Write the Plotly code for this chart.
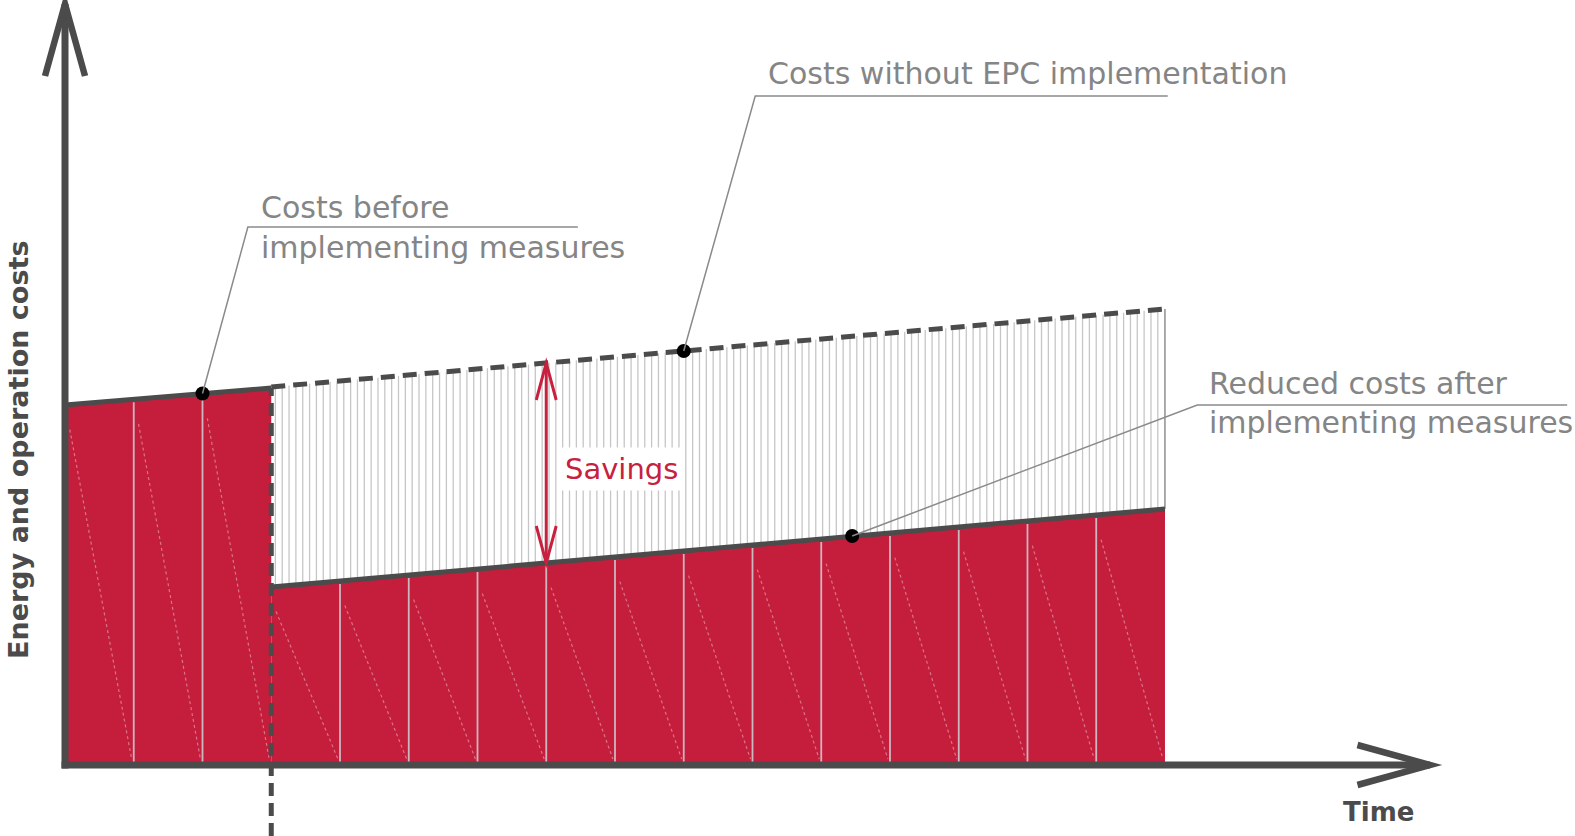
import numpy as np
import plotly.graph_objects as go

# ---------------- data (time units, cost units) ----------------
T_BEFORE = [0, 3]
COST_BEFORE = [36.0, 37.7]

T_AFTER = [3, 16]
COST_WITHOUT_EPC = [37.8, 45.6]
COST_REDUCED = [17.8, 25.6]

T_IMPLEMENT = 3
PANEL_EDGES = list(range(0, 17))

DOT_T = [2.0, 9.0, 11.45]
DOT_COST = [37.15, 41.4, 22.9]

SAVINGS_T = 7.0
SAVINGS_LOW = 20.2
SAVINGS_HIGH = 40.2

LABEL_LINES = [
    ["Costs before", "implementing measures"],
    ["Costs without EPC implementation"],
    ["Reduced costs after", "implementing measures"],
]
LABEL_X = [2.82, 10.2, 16.61]
LABEL_Y = [[55.8, 51.8], [69.15], [38.2, 34.3]]
LEADER_CORNER_T = [2.66, 10.04, 16.47]
LEADER_CORNER_C = [53.8, 66.9, 36.0]
LEADER_END_T = [7.46, 16.04, 21.85]

X_TITLE = "Time"
Y_TITLE = "Energy and operation costs"

# ---------------- styling ----------------
RED = "#C51E3C"
DARK = "#4b4b4b"
GRAY_TXT = "#858585"
LEADER = "#8a8a8a"
CRIMSON = "#C8203F"
FONT = "DejaVu Sans"
HATCH_STEP = 0.0995

X_RANGE = [-0.9455, 21.964]
Y_RANGE = [-7.1, 76.5]
Y_AXIS_TOP = 76.1
X_AXIS_END = 19.855


def red_top(t):
    if t <= T_IMPLEMENT:
        return float(np.interp(t, T_BEFORE, COST_BEFORE))
    return float(np.interp(t, T_AFTER, COST_REDUCED))


fig = go.Figure()

# red cost areas
fig.add_trace(go.Scatter(x=T_BEFORE, y=COST_BEFORE, mode="none", fill="tozeroy",
                         fillcolor=RED, showlegend=False, hoverinfo="skip"))
fig.add_trace(go.Scatter(x=T_AFTER, y=COST_REDUCED, mode="none", fill="tozeroy",
                         fillcolor=RED, showlegend=False, hoverinfo="skip"))

# hatched savings area (vertical hairlines between the two cost lines)
hx, hy = [], []
for t in np.arange(T_AFTER[0] + 0.06, T_AFTER[1], HATCH_STEP):
    hx += [t, t, None]
    hy += [float(np.interp(t, T_AFTER, COST_REDUCED)), float(np.interp(t, T_AFTER, COST_WITHOUT_EPC)), None]
fig.add_trace(go.Scatter(x=hx, y=hy, mode="lines", line=dict(color="#c6c6c6", width=1.3),
                         showlegend=False, hoverinfo="skip"))

# panel dividers in red area
dx, dy = [], []
for t in PANEL_EDGES:
    if t in (PANEL_EDGES[0], T_IMPLEMENT, PANEL_EDGES[-1]):
        continue
    dx += [t, t, None]
    dy += [0, red_top(t) - 0.3, None]
fig.add_trace(go.Scatter(x=dx, y=dy, mode="lines",
                         line=dict(color="rgba(205,200,205,0.9)", width=1.8),
                         showlegend=False, hoverinfo="skip"))

# faint diagonal dotted lines
gx, gy = [], []
for a, b in zip(PANEL_EDGES[:-1], PANEL_EDGES[1:]):
    s = a + 0.07
    gx += [s, b - 0.03, None]
    gy += [red_top(s) - 2.5, 0.6, None]
fig.add_trace(go.Scatter(x=gx, y=gy, mode="lines",
                         line=dict(color="rgba(255,255,255,0.38)", width=1.2, dash="dot"),
                         showlegend=False, hoverinfo="skip"))

# right edge of hatched area
fig.add_trace(go.Scatter(x=[T_AFTER[-1], T_AFTER[-1]], y=[COST_REDUCED[-1], COST_WITHOUT_EPC[-1]],
                         mode="lines", line=dict(color="#9a9a9a", width=1.5),
                         showlegend=False, hoverinfo="skip"))

# cost lines
fig.add_trace(go.Scatter(x=T_BEFORE, y=COST_BEFORE, mode="lines",
                         line=dict(color=DARK, width=5), showlegend=False, hoverinfo="skip"))
fig.add_trace(go.Scatter(x=T_AFTER, y=COST_REDUCED, mode="lines",
                         line=dict(color=DARK, width=5), showlegend=False, hoverinfo="skip"))
fig.add_trace(go.Scatter(x=T_AFTER, y=COST_WITHOUT_EPC, mode="lines",
                         line=dict(color=DARK, width=5, dash="14px,8px"),
                         showlegend=False, hoverinfo="skip"))

# implementation moment (dashed vertical)
fig.add_trace(go.Scatter(x=[T_IMPLEMENT, T_IMPLEMENT], y=[Y_RANGE[0], COST_BEFORE[-1]],
                         mode="lines", line=dict(color=DARK, width=5, dash="13px,7px"),
                         showlegend=False, hoverinfo="skip"))

# marker dots
fig.add_trace(go.Scatter(x=DOT_T, y=DOT_COST, mode="markers",
                         marker=dict(color="black", size=14), showlegend=False, hoverinfo="skip"))

shapes = []
# axes with open arrow heads
shapes.append(dict(type="line", x0=0, y0=-0.35, x1=0, y1=Y_AXIS_TOP, line=dict(color=DARK, width=7)))
shapes.append(dict(type="path", path=f"M -0.291,68.9 L 0,{Y_AXIS_TOP} L 0.291,68.9",
                   line=dict(color=DARK, width=6.5)))
shapes.append(dict(type="line", x0=-0.05, y0=0, x1=X_AXIS_END, y1=0, line=dict(color=DARK, width=7)))
shapes.append(dict(type="path", path=f"M 18.8,2.0 L {X_AXIS_END},0 L 18.8,-2.0",
                   line=dict(color=DARK, width=6.5)))

# savings double arrow
shapes.append(dict(type="line", x0=SAVINGS_T, y0=SAVINGS_LOW, x1=SAVINGS_T, y1=SAVINGS_HIGH,
                   line=dict(color=CRIMSON, width=3)))
shapes.append(dict(type="path",
                   path=f"M {SAVINGS_T-0.145},{SAVINGS_HIGH-3.7} L {SAVINGS_T},{SAVINGS_HIGH} L {SAVINGS_T+0.145},{SAVINGS_HIGH-3.7}",
                   line=dict(color=CRIMSON, width=3)))
shapes.append(dict(type="path",
                   path=f"M {SAVINGS_T-0.145},{SAVINGS_LOW+3.7} L {SAVINGS_T},{SAVINGS_LOW} L {SAVINGS_T+0.145},{SAVINGS_LOW+3.7}",
                   line=dict(color=CRIMSON, width=3)))

# leader lines
for dt, dc, ct, cc, et in zip(DOT_T, DOT_COST, LEADER_CORNER_T, LEADER_CORNER_C, LEADER_END_T):
    shapes.append(dict(type="path", path=f"M {dt},{dc} L {ct},{cc} L {et},{cc}",
                       line=dict(color=LEADER, width=1.5)))

for s in shapes:
    s.update(xref="x", yref="y", layer="above")

annotations = []
for lines, lx, lys in zip(LABEL_LINES, LABEL_X, LABEL_Y):
    for txt, ly in zip(lines, lys):
        annotations.append(dict(x=lx, y=ly, text=txt, showarrow=False, xanchor="left", yanchor="middle",
                                font=dict(family=FONT, size=30, color=GRAY_TXT)))

annotations.append(dict(x=8.09, y=29.6, text="Savings", showarrow=False, xanchor="center",
                        yanchor="middle", bgcolor="white", borderpad=4,
                        font=dict(family=FONT, size=29, color=CRIMSON)))
annotations.append(dict(x=-0.684, y=31.5, text=f"<b>{Y_TITLE}</b>", showarrow=False, textangle=-90,
                        xanchor="center", yanchor="middle",
                        font=dict(family=FONT, size=27, color=DARK)))
annotations.append(dict(x=19.1, y=-4.7, text=f"<b>{X_TITLE}</b>", showarrow=False,
                        xanchor="center", yanchor="middle",
                        font=dict(family=FONT, size=26, color=DARK)))

fig.update_layout(
    width=1575, height=836,
    margin=dict(l=0, r=0, t=0, b=0),
    paper_bgcolor="white", plot_bgcolor="white",
    xaxis=dict(range=X_RANGE, visible=False, fixedrange=True),
    yaxis=dict(range=Y_RANGE, visible=False, fixedrange=True),
    shapes=shapes, annotations=annotations,
    showlegend=False,
)

fig.write_html("out.html")
